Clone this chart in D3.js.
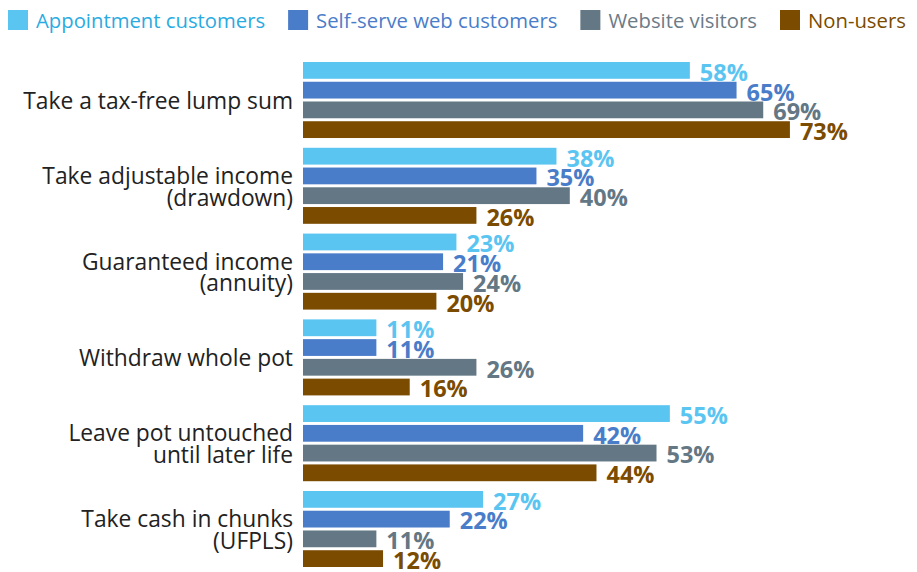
<!DOCTYPE html>
<html>
<head>
<meta charset="utf-8">
<script src="https://cdn.jsdelivr.net/npm/d3@7/dist/d3.min.js"></script>
<style>
  html, body { margin: 0; padding: 0; background: #fff; }
  svg { display: block; font-family: "Open Sans", "Noto Sans", sans-serif; }
</style>
</head>
<body>
<svg id="chart" width="917" height="572"></svg>
<script>
// Retirement options chosen, by customer group (percent)
const categories = [
  ["Take a tax-free lump sum"],
  ["Take adjustable income", "(drawdown)"],
  ["Guaranteed income", "(annuity)"],
  ["Withdraw whole pot"],
  ["Leave pot untouched", "until later life"],
  ["Take cash in chunks", "(UFPLS)"]
];
const seriesNames = ["Appointment customers", "Self-serve web customers", "Website visitors", "Non-users"];
const appointment = [58, 38, 23, 11, 55, 27];
const selfServe   = [65, 35, 21, 11, 42, 22];
const visitors    = [69, 40, 24, 26, 53, 11];
const nonUsers    = [73, 26, 20, 16, 44, 12];
const seriesValues = [appointment, selfServe, visitors, nonUsers];

const barColors   = ["#5BC5F2", "#4A7DC9", "#637785", "#7B4B00"];
const legendText  = ["#29ABE2", "#4A7DC9", "#6B7B87", "#7B4B00"];

const svg = d3.select("#chart");
const catKeys = categories.map(c => c.join(" "));

const x = d3.scaleLinear().domain([0, 100]).range([303, 970]);
const y0 = d3.scaleBand().domain(catKeys).range([62, 567]).paddingInner(0.114).paddingOuter(0);
const y1 = d3.scaleBand().domain(seriesNames).range([0, y0.bandwidth()]).paddingInner(0.15);

// Category labels, right-aligned against the bars
const catG = svg.append("g");
categories.forEach((lines, i) => {
  const cy = y0(catKeys[i]) + y0.bandwidth() / 2;
  const lh = 21.5;
  const t = catG.append("text")
    .attr("x", 293)
    .attr("text-anchor", "end")
    .attr("font-size", 22.8)
    .attr("fill", "#222");
  lines.forEach((ln, j) => {
    t.append("tspan")
      .attr("x", 293)
      .attr("y", cy + 9 + (j - (lines.length - 1) / 2) * lh)
      .text(ln);
  });
});

// Bars and value labels
const groups = svg.append("g").selectAll("g")
  .data(catKeys)
  .join("g")
  .attr("transform", d => `translate(0,${y0(d)})`);

groups.each(function(ck, ci) {
  const g = d3.select(this);
  seriesNames.forEach((s, si) => {
    const v = seriesValues[si][ci];
    g.append("rect")
      .attr("x", x(0))
      .attr("y", y1(s))
      .attr("width", x(v) - x(0))
      .attr("height", y1.bandwidth())
      .attr("fill", barColors[si]);
  });
  seriesNames.forEach((s, si) => {
    const v = seriesValues[si][ci];
    g.append("text")
      .attr("x", x(v) + 10)
      .attr("y", y1(s) + y1.bandwidth() + 2)
      .attr("font-size", 23.5)
      .attr("font-weight", "bold")
      .attr("fill", barColors[si])
      .text(v + "%");
  });
});

// Legend
const legend = svg.append("g");
let lx = 8;
seriesNames.forEach((s, i) => {
  legend.append("rect")
    .attr("x", lx).attr("y", 10)
    .attr("width", 20).attr("height", 20)
    .attr("fill", barColors[i]);
  const t = legend.append("text")
    .attr("x", lx + 28).attr("y", 28)
    .attr("font-size", 20.3)
    .attr("fill", legendText[i])
    .text(s);
  lx += 28 + t.node().getComputedTextLength() + 23;
});
</script>
</body>
</html>
